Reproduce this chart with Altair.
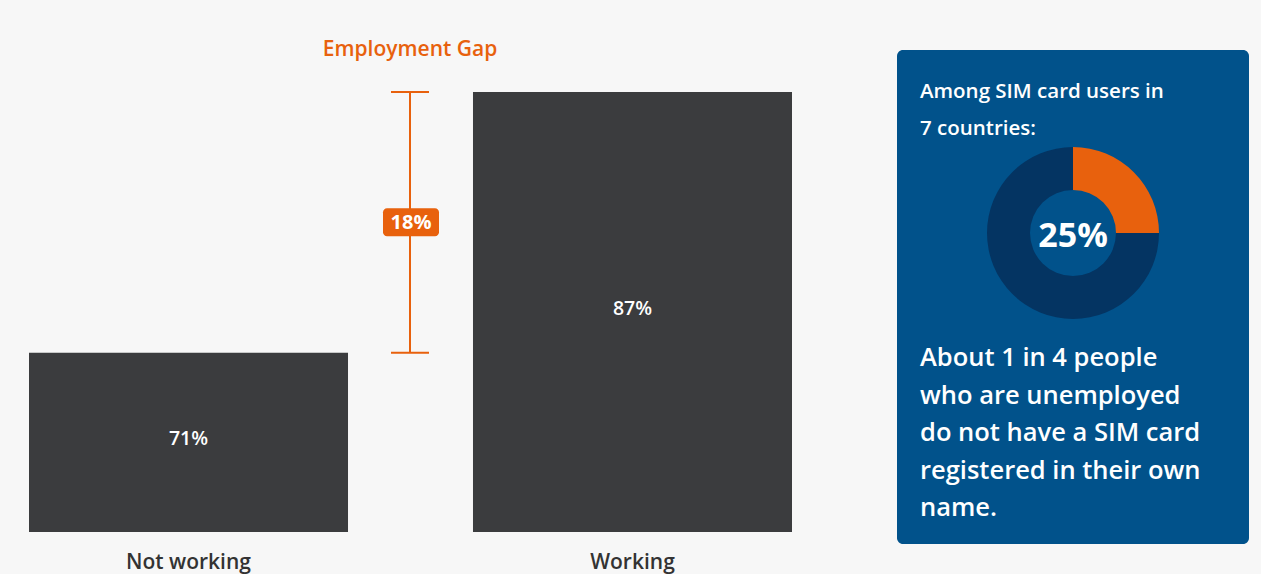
import altair as alt
import pandas as pd

# ---- data ----
groups = ["Not working", "Working"]
values = [71, 87]
value_labels = ["71%", "87%"]
gap_low = [71]
gap_high = [87]
gap_label = ["18%"]
gap_title = ["Employment Gap"]
donut_parts = ["Unregistered", "Registered"]
donut_values = [25, 75]
donut_center_label = ["25%"]
panel_intro = ["Among SIM card users in", "7 countries:"]
panel_body = ["About 1 in 4 people", "who are unemployed", "do not have a SIM card",
              "registered in their own", "name."]

FONT = "Open Sans"
ORANGE = "#e8610d"
BAR = "#3b3c3e"
BLUE = "#01528b"
DARK = "#043462"

bars_df = pd.DataFrame({"group": groups, "value": values, "label": value_labels})
gap_df = pd.DataFrame({"low": gap_low, "high": gap_high, "label": gap_label, "title": gap_title})
donut_df = pd.DataFrame({"part": donut_parts, "value": donut_values, "order": [0, 1]})

xs = alt.Scale(domain=groups, range=[29, 792], paddingInner=0.2815, paddingOuter=0)
ys = alt.Scale(domain=[60, 87], range=[532, 92], zero=False, nice=False)

base = alt.Chart(bars_df)
bars = base.mark_bar(color=BAR).encode(
    x=alt.X("group:N", scale=xs, axis=None),
    y=alt.Y("value:Q", scale=ys, axis=None),
    y2=alt.datum(60),
)
inner = base.transform_calculate(mid="(datum.value + 60) / 2").mark_text(
    color="white", font=FONT, fontSize=19.5, fontWeight=600, baseline="middle", dy=-3
).encode(
    x=alt.X("group:N", scale=xs, axis=None),
    y=alt.Y("mid:Q", scale=ys, axis=None),
    text="label:N",
)
cat_labels = base.mark_text(
    color="#333333", font=FONT, fontSize=21, fontWeight=600, baseline="alphabetic"
).encode(
    x=alt.X("group:N", scale=xs, axis=None),
    y=alt.value(569),
    text="group:N",
)

gbase = alt.Chart(gap_df)
gap_line = gbase.mark_rule(color=ORANGE, strokeWidth=2).encode(
    x=alt.value(410),
    y=alt.Y("low:Q", scale=ys, axis=None),
    y2="high:Q",
)
cap_top = gbase.mark_rule(color=ORANGE, strokeWidth=2).encode(
    x=alt.value(391), x2=alt.value(429), y=alt.Y("high:Q", scale=ys, axis=None)
)
cap_bot = gbase.mark_rule(color=ORANGE, strokeWidth=2).encode(
    x=alt.value(391), x2=alt.value(429), y=alt.Y("low:Q", scale=ys, axis=None)
)
gmid = gbase.transform_calculate(mid="(datum.low + datum.high) / 2")
gap_box = gmid.mark_rect(color=ORANGE, cornerRadius=4, yOffset=-14, y2Offset=14).encode(
    x=alt.value(383), x2=alt.value(439),
    y=alt.Y("mid:Q", scale=ys, axis=None), y2="mid:Q",
)
gap_text = gmid.mark_text(
    color="white", font=FONT, fontSize=20, fontWeight="bold", baseline="middle", dy=1
).encode(
    x=alt.value(411), y=alt.Y("mid:Q", scale=ys, axis=None), text="label:N"
)
gap_title_t = gbase.mark_text(
    color=ORANGE, font=FONT, fontSize=21, fontWeight=600, baseline="alphabetic"
).encode(x=alt.value(410), y=alt.value(56), text="title:N")

panel = gbase.mark_rect(color=BLUE, cornerRadius=6).encode(
    x=alt.value(897), x2=alt.value(1249), y=alt.value(50), y2=alt.value(544)
)
donut = alt.Chart(donut_df).mark_arc(radius=86, radius2=43).encode(
    theta=alt.Theta("value:Q", stack=True),
    order=alt.Order("order:Q"),
    color=alt.Color("part:N", scale=alt.Scale(domain=donut_parts, range=[ORANGE, DARK]), legend=None),
    x=alt.value(1073), y=alt.value(233),
)
center_t = alt.Chart(pd.DataFrame({"t": donut_center_label})).mark_text(
    color="white", font=FONT, fontSize=34, fontWeight="bold", baseline="alphabetic"
).encode(x=alt.value(1073), y=alt.value(247), text="t:N")

intro_t = alt.Chart(pd.DataFrame({"t": [0]})).mark_text(
    text=panel_intro, color="white", font=FONT, fontSize=20.5, fontWeight=600,
    align="left", baseline="alphabetic", lineHeight=37
).encode(x=alt.value(920), y=alt.value(98))
body_t = alt.Chart(pd.DataFrame({"t": [0]})).mark_text(
    text=panel_body, color="white", font=FONT, fontSize=25.5, fontWeight=600,
    align="left", baseline="alphabetic", lineHeight=37.5
).encode(x=alt.value(920), y=alt.value(366))

chart = alt.layer(
    bars, inner, cat_labels, gap_line, cap_top, cap_bot, gap_box, gap_text, gap_title_t,
    panel, donut, center_t, intro_t, body_t
).resolve_scale(color="independent").properties(
    width=1261, height=574, padding=0, background="#f7f7f7",
    autosize=alt.AutoSizeParams(type="none"),
).configure_view(stroke=None)

chart.save("out.html", embed_options={"renderer": "svg", "actions": False})
